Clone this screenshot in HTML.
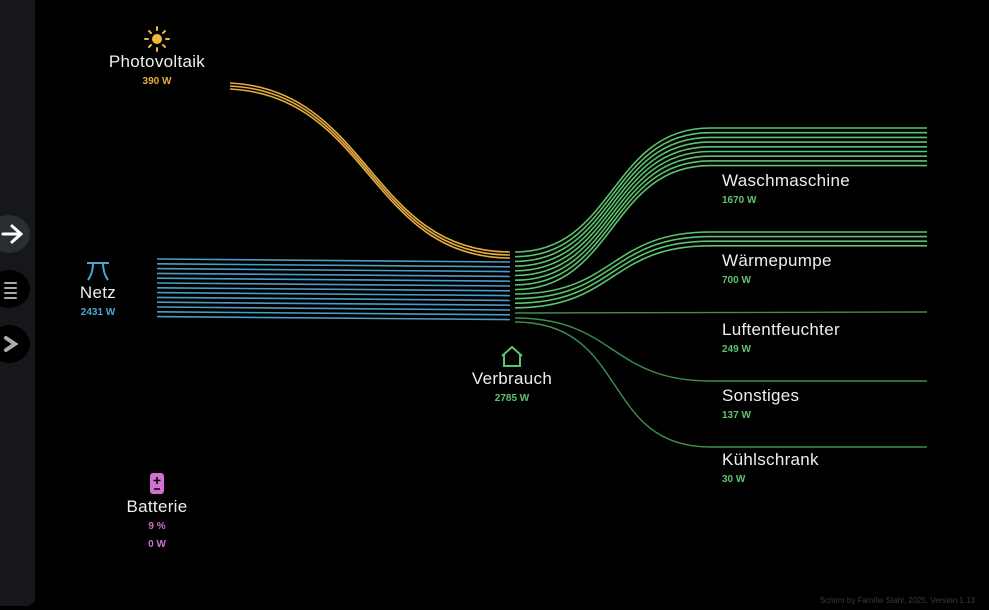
<!DOCTYPE html>
<html><head><meta charset="utf-8"><style>
html,body{margin:0;padding:0;background:#000;width:989px;height:610px;overflow:hidden;font-family:"Liberation Sans",sans-serif}
.sb{position:absolute;left:0;top:0;width:35px;height:606px;background:#15171b;border-radius:0 0 8px 0}
.btn{position:absolute;left:-12px;width:42px;height:38px;border-radius:50%;background:#000}
.t{position:absolute;color:#eee;font-size:17px;letter-spacing:0.3px;text-align:center;white-space:nowrap}
.v{position:absolute;font-size:10px;font-weight:bold;text-align:center;white-space:nowrap}
</style></head><body>
<div class="sb"></div>
<div class="btn" style="top:215px;background:#2a2d33"></div>
<div class="btn" style="top:270px"></div>
<div class="btn" style="top:325px"></div>
<svg width="989" height="610" style="position:absolute;left:0;top:0">
<g stroke="#fff" stroke-width="3" fill="none" stroke-linecap="round">
<path d="M3 234 H20 M12 226 L21 234 L12 242"/>
<path d="M5 283 H16 M5 288 H16 M5 293 H16 M5 298 H16" stroke="#aaa" stroke-width="2"/>
<path d="M6 338 L15 344 L6 350" stroke="#aaa" stroke-width="4"/>
</g>
<g fill="none" stroke="#e6ad3e" stroke-width="1.6">
<path d="M230 83 C370 90 370 252 510 252"/>
<path d="M230 86 C370 93 370 255 510 255"/>
<path d="M230 89 C370 96 370 258 510 258"/>
</g>
<g stroke="#4a9cc4" stroke-width="1.6">
<path d="M157 259 L510 262"/><path d="M157 263.8 L510 266.8"/><path d="M157 268.6 L510 271.6"/><path d="M157 273.4 L510 276.4"/><path d="M157 278.2 L510 281.2"/><path d="M157 283 L510 286"/><path d="M157 287.8 L510 290.8"/><path d="M157 292.6 L510 295.6"/><path d="M157 297.4 L510 300.4"/><path d="M157 302.2 L510 305.2"/><path d="M157 307 L510 310"/><path d="M157 311.8 L510 314.8"/><path d="M157 316.6 L510 319.6"/>
</g>
<g fill="none" stroke="#5cc46e" stroke-width="1.6">
<path d="M515 252 C615 252 610 128 710 128 L927 128"/>
<path d="M515 256.7 C615 256.7 610 132.7 710 132.7 L927 132.7"/>
<path d="M515 261.4 C615 261.4 610 137.4 710 137.4 L927 137.4"/>
<path d="M515 266.1 C615 266.1 610 142.1 710 142.1 L927 142.1"/>
<path d="M515 270.8 C615 270.8 610 146.8 710 146.8 L927 146.8"/>
<path d="M515 275.5 C615 275.5 610 151.5 710 151.5 L927 151.5"/>
<path d="M515 280.2 C615 280.2 610 156.2 710 156.2 L927 156.2"/>
<path d="M515 284.9 C615 284.9 610 160.9 710 160.9 L927 160.9"/>
<path d="M515 289.6 C615 289.6 610 165.6 710 165.6 L927 165.6"/>
<path d="M515 294 C615 294 610 232 710 232 L927 232"/>
<path d="M515 298.6 C615 298.6 610 236.6 710 236.6 L927 236.6"/>
<path d="M515 303.2 C615 303.2 610 241.2 710 241.2 L927 241.2"/>
<path d="M515 307.8 C615 307.8 610 245.8 710 245.8 L927 245.8"/>
</g>
<g fill="none" stroke="#3f8f4f" stroke-width="1.4">
<path d="M515 313 L927 312"/>
<path d="M515 318 C615 318 610 381 710 381 L927 381"/>
<path d="M515 322 C630 322 600 447 710 447 L927 447"/>
</g>
<g stroke="#f0b840" stroke-width="2" stroke-linecap="round">
<circle cx="157" cy="39" r="5" fill="#f0b840" stroke="none"/>
<path d="M157 27V30 M157 48V51 M145 39H148 M166 39H169 M149 31L151 33 M163 45L165 47 M165 31L163 33 M151 45L149 47"/>
</g>
<g stroke="#4aa8d0" stroke-width="2" fill="none"><path d="M87 263 H109 M93 263 C93 270 91 276 88 280 M103 263 C103 270 105 276 108 280"/></g>
<g stroke="#5cc46e" stroke-width="2" fill="none"><path d="M502 356 L512 347 L522 356 M504 354 V366 H520 V354"/></g>
<rect x="150" y="473" width="14" height="21" rx="3" fill="#d070d0"/>
<path d="M157 477V484 M153.5 480.5H160.5 M154 489H160" stroke="#000" stroke-width="1.5"/>
<text x="975" y="603" fill="#3a3a3a" font-size="8" text-anchor="end" font-family="Liberation Sans">Schirm by Familie Stahl, 2025, Version 1.13</text>
</svg>
<div class="t" style="left:87px;width:140px;top:52px">Photovoltaik</div>
<div class="v" style="left:97px;width:120px;top:76px;color:#e6ad3e">390 W</div>
<div class="t" style="left:58px;width:80px;top:283px">Netz</div>
<div class="v" style="left:58px;width:80px;top:307px;color:#4aa8d0">2431 W</div>
<div class="t" style="left:452px;width:120px;top:369px">Verbrauch</div>
<div class="v" style="left:462px;width:100px;top:393px;color:#5cc46e">2785 W</div>
<div class="t" style="left:107px;width:100px;top:497px">Batterie</div>
<div class="v" style="left:107px;width:100px;top:521px;color:#d070d0">9 %</div>
<div class="v" style="left:107px;width:100px;top:539px;color:#d070d0">0 W</div>
<div class="t" style="left:722px;top:171px">Waschmaschine</div>
<div class="v" style="left:722px;top:195px;color:#5cc46e">1670 W</div>
<div class="t" style="left:722px;top:251px">Wärmepumpe</div>
<div class="v" style="left:722px;top:275px;color:#5cc46e">700 W</div>
<div class="t" style="left:722px;top:320px">Luftentfeuchter</div>
<div class="v" style="left:722px;top:344px;color:#5cc46e">249 W</div>
<div class="t" style="left:722px;top:386px">Sonstiges</div>
<div class="v" style="left:722px;top:410px;color:#5cc46e">137 W</div>
<div class="t" style="left:722px;top:450px">Kühlschrank</div>
<div class="v" style="left:722px;top:474px;color:#5cc46e">30 W</div>
</body></html>
